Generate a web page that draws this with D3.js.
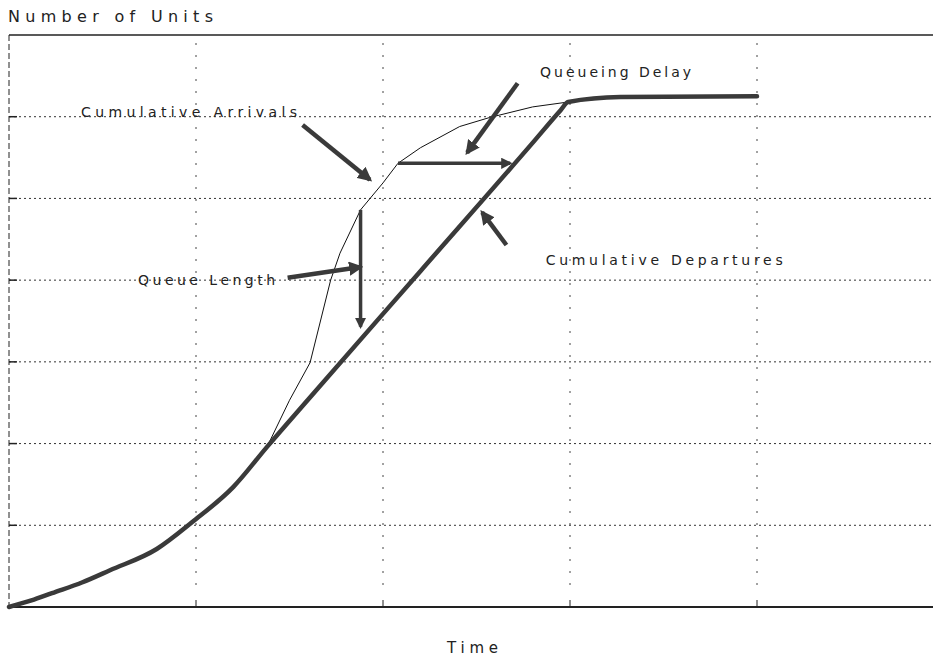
<!DOCTYPE html>
<html>
<head>
<meta charset="utf-8">
<script src="https://cdn.jsdelivr.net/npm/d3@7"></script>
<style>
  body { margin: 0; background: #fff; }
  text { font-family: "DejaVu Sans", sans-serif; fill: #222; }
</style>
</head>
<body>
<div id="chart"></div>
<script>
/*
 * Datos de las curvas (tiempo, unidades)
 */
var arrivalsX   = [0, 0.23, 0.54, 0.79, 0.98, 1.20, 1.38, 1.50, 1.61, 1.72, 1.77, 1.88, 2.00, 2.08, 2.20, 2.41, 2.57, 2.80, 2.99, 3.27, 4.00];
var arrivalsY   = [0, 0.17, 0.45, 0.71, 1.04, 1.47, 1.96, 2.53, 2.99, 4.00, 4.33, 4.86, 5.19, 5.43, 5.62, 5.88, 5.99, 6.12, 6.18, 6.24, 6.25];
var departuresX = [0, 0.12, 0.23, 0.39, 0.54, 0.79, 0.98, 1.20, 1.38, 1.60, 2.20, 2.80, 2.95, 2.99, 3.27, 4.00];
var departuresY = [0, 0.08, 0.17, 0.30, 0.45, 0.71, 1.04, 1.47, 1.96, 2.54, 4.11, 5.68, 6.08, 6.18, 6.24, 6.25];

// Grilla
var xTicks = [1, 2, 3, 4];
var yTicks = [1, 2, 3, 4, 5, 6];

// Flechas de anotacion [x, y]
var arrowNames = ["arrivals", "delay", "delayBar", "lengthBar", "length", "departures"];
var arrowFrom  = [[1.57, 5.90], [2.72, 6.41], [2.08, 5.43], [1.88, 4.86], [1.49, 4.03], [2.66, 4.43]];
var arrowTo    = [[1.93, 5.23], [2.45, 5.56], [2.68, 5.43], [1.88, 3.43], [1.88, 4.16], [2.53, 4.83]];

// Etiquetas
var labelTexts = ["Cumulative Arrivals", "Queueing Delay", "Cumulative Departures", "Queue Length"];
var labelX     = [0.385, 2.84, 2.87, 0.69];
var labelY     = [6.00, 6.49, 4.19, 3.94];
var labelWidth = [216, 151, 237, 137];

var svgWidth = 933;
var svgHeight = 662;

var x = d3.scaleLinear().domain([0, 5]).range([9, 944]);
var y = d3.scaleLinear().domain([0, 7]).range([607, 35]);

var svg = d3.select("#chart")
  .append("svg")
  .attr("width", svgWidth)
  .attr("height", svgHeight);

var ink = "#3a3a3a";

svg.append("defs").append("marker")
  .attr("id", "head")
  .attr("viewBox", "0 0 10 10")
  .attr("refX", 8).attr("refY", 5)
  .attr("markerWidth", 3.2).attr("markerHeight", 3.2)
  .attr("orient", "auto")
  .append("path")
  .attr("d", "M0,0 L10,5 L0,10 Z")
  .attr("fill", ink);

// Grilla horizontal
svg.selectAll(".hgrid").data(yTicks).enter().append("line")
  .attr("x1", x(0)).attr("x2", svgWidth)
  .attr("y1", function(d){ return y(d); })
  .attr("y2", function(d){ return y(d); })
  .attr("stroke", "#333").attr("stroke-width", 1)
  .attr("stroke-dasharray", "2,3");

// marcas del eje izquierdo
svg.selectAll(".ytick").data(yTicks).enter().append("line")
  .attr("x1", x(0)).attr("x2", x(0) + 8)
  .attr("y1", function(d){ return y(d); })
  .attr("y2", function(d){ return y(d); })
  .attr("stroke", "#222").attr("stroke-width", 1.5);

// Grilla vertical
svg.selectAll(".vgrid").data(xTicks).enter().append("line")
  .attr("x1", function(d){ return x(d); })
  .attr("x2", function(d){ return x(d); })
  .attr("y1", y(7) + 8).attr("y2", y(0) - 12)
  .attr("stroke", "#444").attr("stroke-width", 1)
  .attr("stroke-dasharray", "2,10");

// marcas del eje inferior
svg.selectAll(".xtick").data(xTicks).enter().append("line")
  .attr("x1", function(d){ return x(d); })
  .attr("x2", function(d){ return x(d); })
  .attr("y1", y(0)).attr("y2", y(0) - 7)
  .attr("stroke", "#222").attr("stroke-width", 1);

// Bordes
svg.append("line")
  .attr("x1", x(0)).attr("x2", svgWidth)
  .attr("y1", y(7)).attr("y2", y(7))
  .attr("stroke", "#222").attr("stroke-width", 1.5);
svg.append("line")
  .attr("x1", x(0)).attr("x2", svgWidth)
  .attr("y1", y(0)).attr("y2", y(0))
  .attr("stroke", "#222").attr("stroke-width", 2);
svg.append("line")
  .attr("x1", x(0)).attr("x2", x(0))
  .attr("y1", y(7)).attr("y2", y(0))
  .attr("stroke", "#222").attr("stroke-width", 1)
  .attr("stroke-dasharray", "6,3");

var line = d3.line()
  .x(function(d){ return x(d[0]); })
  .y(function(d){ return y(d[1]); });

// Llegadas acumuladas (linea fina)
svg.append("path")
  .datum(d3.zip(arrivalsX, arrivalsY))
  .attr("d", line)
  .attr("fill", "none")
  .attr("stroke", "#111")
  .attr("stroke-width", 1);

// Salidas acumuladas (linea gruesa)
svg.append("path")
  .datum(d3.zip(departuresX, departuresY))
  .attr("d", line.curve(d3.curveMonotoneX))
  .attr("fill", "none")
  .attr("stroke", ink)
  .attr("stroke-width", 4.5)
  .attr("stroke-linecap", "round")
  .attr("stroke-linejoin", "round");

// Flechas
svg.selectAll(".arrow").data(arrowNames).enter().append("line")
  .attr("class", "arrow")
  .attr("x1", function(d,i){ return x(arrowFrom[i][0]); })
  .attr("y1", function(d,i){ return y(arrowFrom[i][1]); })
  .attr("x2", function(d,i){ return x(arrowTo[i][0]); })
  .attr("y2", function(d,i){ return y(arrowTo[i][1]); })
  .attr("stroke", ink)
  .attr("stroke-width", function(d){ return (d == "delayBar" || d == "lengthBar") ? 3.5 : 4.5; })
  .attr("marker-end", "url(#head)");

// Etiquetas
svg.selectAll(".label").data(labelTexts).enter().append("text")
  .attr("x", function(d,i){ return x(labelX[i]); })
  .attr("y", function(d,i){ return y(labelY[i]); })
  .attr("font-size", 14)
  .attr("textLength", function(d,i){ return labelWidth[i]; })
  .attr("lengthAdjust", "spacing")
  .text(function(d){ return d; });

svg.append("text")
  .attr("x", 8).attr("y", 22)
  .attr("font-size", 16)
  .attr("textLength", 205)
  .attr("lengthAdjust", "spacing")
  .text("Number of Units");

svg.append("text")
  .attr("x", 447).attr("y", 653)
  .attr("font-size", 15)
  .attr("textLength", 51)
  .attr("lengthAdjust", "spacing")
  .text("Time");
</script>
</body>
</html>
